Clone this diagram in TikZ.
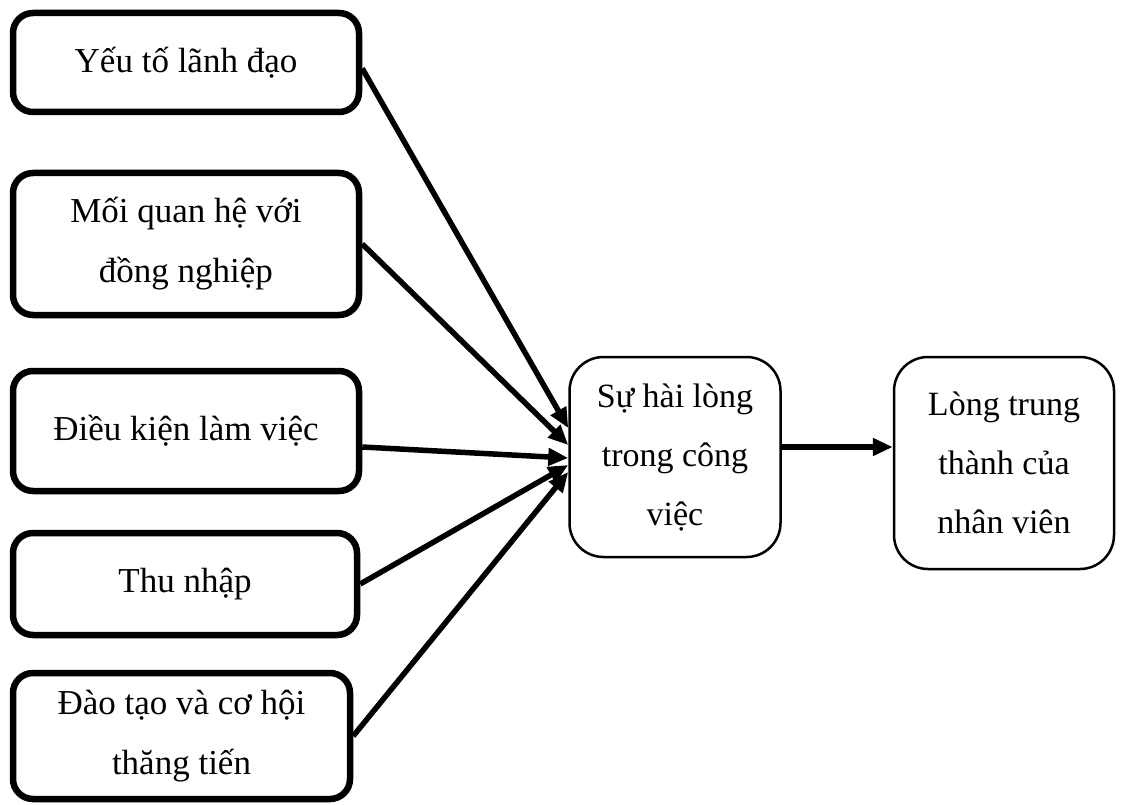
\documentclass[tikz,border=0pt]{standalone}
\usepackage{fontspec}
\setmainfont{Liberation Serif}
\usetikzlibrary{arrows.meta}

\begin{document}
\begin{tikzpicture}[x=1pt,y=-1pt,
  txt/.style={font=\fontsize{35}{60}\selectfont, align=center, inner sep=0pt},
  factor/.style={txt, draw, line width=6.5pt, rounded corners=20pt},
  result/.style={txt, font=\fontsize{34}{59}\selectfont, draw, line width=2.5pt, rounded corners=34pt},
  link/.style={line width=5.5pt, -{Triangle[length=20pt,width=17pt]}}]
  \useasboundingbox (0,0) rectangle (1129,805);

  % factor boxes on the left
  \node[factor, minimum width=346pt, minimum height=99pt]  (b1) at (186,62.5) {Yếu tố lãnh đạo};
  \node[factor, minimum width=346pt, minimum height=142pt] (b2) at (186,244) {Mối quan hệ với\\đồng nghiệp};
  \node[factor, minimum width=346pt, minimum height=120pt] (b3) at (186,431) {Điều kiện làm việc};
  \node[factor, minimum width=344pt, minimum height=102pt] (b4) at (185,584) {Thu nhập};
  \node[factor, minimum width=337pt, minimum height=126pt] (b5) at (181.5,736) {Đào tạo và cơ hội\\thăng tiến};

  % outcome boxes
  \node[result, minimum width=211pt, minimum height=200pt] (mid) at (675,457) {Sự hài lòng\\trong công\\việc};
  \node[result, minimum width=220pt, minimum height=212pt] (res) at (1004,463) {Lòng trung\\thành của\\nhân viên};

  % arrows into the satisfaction box
  \draw[link] ([yshift=-6pt]b1.east) -- ([yshift=29pt]mid.west);
  \draw[link] (b2.east) -- ([yshift=12pt]mid.west);
  \draw[link] ([yshift=-16pt]b3.east) -- ([yshift=-1pt]mid.west);
  \draw[link] (b4.east) -- ([yshift=-8pt]mid.west);
  \draw[link] (b5.east) -- ([yshift=-15pt]mid.west);

  % satisfaction to loyalty
  \coordinate (m2) at ([yshift=10pt]mid.east);
  \draw[link] (m2) -- (m2 -| res.west);
\end{tikzpicture}
\end{document}
